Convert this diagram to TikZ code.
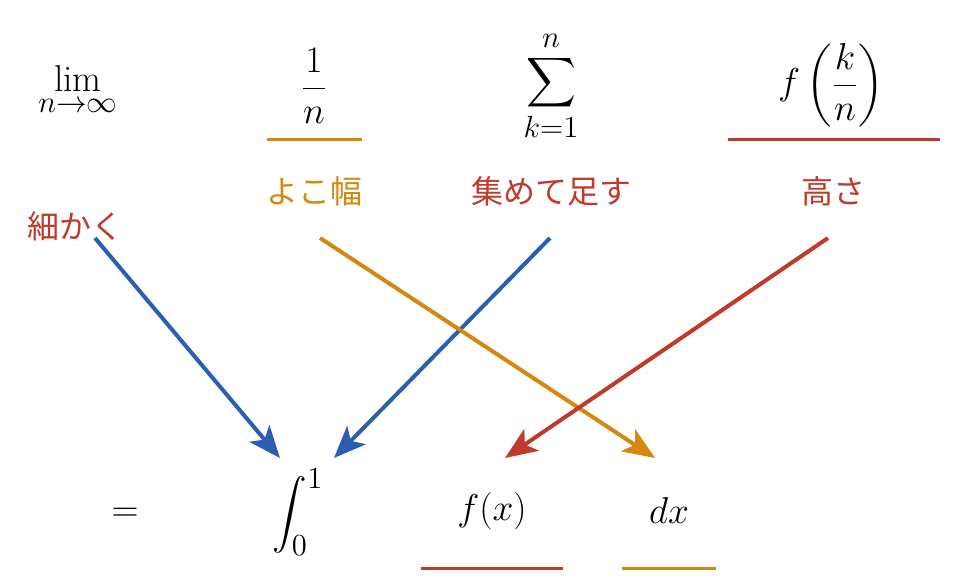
\documentclass[tikz,border=0pt]{standalone}
\usepackage{fix-cm}
\usepackage{amsmath}
\usepackage{fontspec}
\usepackage{tikz}
\usetikzlibrary{positioning,arrows.meta,calc}
\newfontfamily\jpfont{Noto Sans CJK JP}
\DeclareMathSizes{18.7}{18.7}{15.3}{12}
\definecolor{palBlue}{HTML}{2B5EB0}
\definecolor{palOrange}{HTML}{D4880F}
\definecolor{palRed}{HTML}{C0392B}
\tikzset{
  mathnode/.style={inner sep=0pt, font=\fontsize{18.7}{22}\selectfont},
  jplabel/.style={inner sep=0pt, font=\jpfont\fontsize{16}{19}\selectfont},
  underbar/.style={line width=1.5pt},
  mapsarrow/.style={line width=2pt,
                    -{Stealth[length=16pt, width=13pt, inset=4pt]}},
}

\begin{document}
\begin{tikzpicture}[x=0.5pt, y=-0.5pt]
\useasboundingbox (0,0) rectangle (959,588);

%% Top row: the Riemann sum
\node[mathnode] (lim)    at (78,91)  {$\displaystyle\lim_{n\to\infty}$};
\node[mathnode] (width)  at (314,86) {$\dfrac{1}{n}$};
\node[mathnode] (sum)    at (551,86) {$\displaystyle\sum_{k=1}^{n}$};
\node[mathnode] (height) at (831,85) {$f\left(\dfrac{k}{n}\right)$};

%% Japanese labels
\node[jplabel, palOrange] (lblWidth)  at (314,191) {よこ幅};
\node[jplabel, palRed]    (lblSum)    at (551,191) {集めて足す};
\node[jplabel, palRed]    (lblHeight) at (833,191) {高さ};
\node[jplabel, palRed]    (lblLim)    at (75,226)  {細かく};

%% Bottom row: the integral
\node[mathnode] (eq)  at (125,515) {$=$};
\node[mathnode] (int) at (298,512) {$\displaystyle\int_0^1$};
\node[mathnode] (fx)  at (492,511) {$f(x)$};
\node[mathnode] (dx)  at (669,511) {$dx$};

%% Underlines (colour = which part maps where)
\draw[underbar, palOrange] (267,140) -- (362,140);
\draw[underbar, palRed]    (728,140) -- (940,140);
\draw[underbar, palRed]    (421,568) -- (563,568);
\draw[underbar, palOrange] (622,568) -- (716,568);

%% Mapping arrows
\draw[mapsarrow, palBlue]   ($(lblLim)+(20,12)$)    -- ($(int)+(-18,-54)$);
\draw[mapsarrow, palBlue]   ($(lblSum)+(-1,47)$)    -- ($(int)+(36,-54)$);
\draw[mapsarrow, palOrange] ($(lblWidth)+(6,47)$)   -- ($(dx)+(-14,-53)$);
\draw[mapsarrow, palRed]    ($(lblHeight)+(-5,47)$) -- ($(fx)+(13,-53)$);
\end{tikzpicture}
\end{document}
